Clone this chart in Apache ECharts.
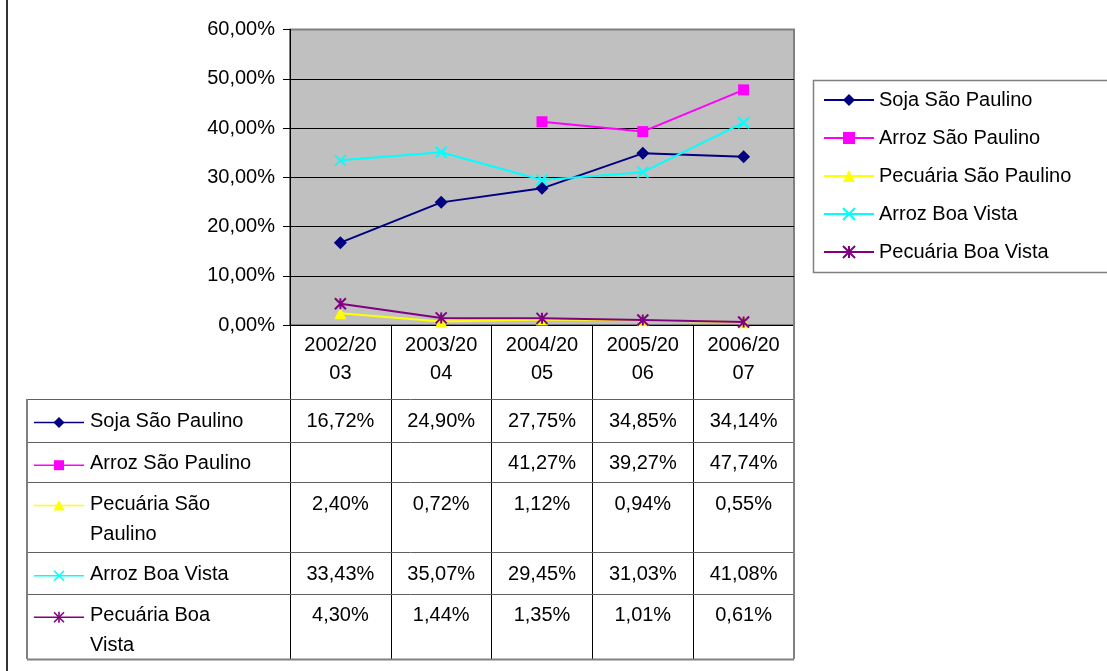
<!DOCTYPE html>
<html>
<head>
<meta charset="utf-8">
<script src="https://cdn.jsdelivr.net/npm/echarts@6/dist/echarts.min.js"></script>
<style>
html,body{margin:0;padding:0;background:#fff;overflow:hidden}
#c{width:1107px;height:671px}
</style>
</head>
<body>
<div id="c"></div>
<script>
// ---------- data ----------
const categories = ['2002/2003', '2003/2004', '2004/2005', '2005/2006', '2006/2007'];
const seriesNames = ['Soja São Paulino', 'Arroz São Paulino', 'Pecuária São Paulino', 'Arroz Boa Vista', 'Pecuária Boa Vista'];
const sojaSaoPaulino = [16.72, 24.90, 27.75, 34.85, 34.14];
const arrozSaoPaulino = [null, null, 41.27, 39.27, 47.74];
const pecuariaSaoPaulino = [2.40, 0.72, 1.12, 0.94, 0.55];
const arrozBoaVista = [33.43, 35.07, 29.45, 31.03, 41.08];
const pecuariaBoaVista = [4.30, 1.44, 1.35, 1.01, 0.61];
const tableRowLabels = ['Soja São Paulino', 'Arroz São Paulino', 'Pecuária São\nPaulino', 'Arroz Boa Vista', 'Pecuária Boa\nVista'];
const yMin = 0, yMax = 60, yStep = 10;

// ---------- styles ----------
const FONT = 'Liberation Sans, Arial, sans-serif';
const FS = 20;
const colors = ['#000080', '#FF00FF', '#FFFF00', '#00FFFF', '#800080'];
const markers = ['diamond', 'rect', 'triangle', 'x', 'star'];
const symbolOf = {
  diamond: 'diamond',
  rect: 'rect',
  triangle: 'triangle',
  x: 'path://M0,0L10,10M10,0L0,10',
  star: 'path://M0,0L10,10M10,0L0,10M5,0L5,10'
};
const symbolSizeOf = {diamond: 13, rect: 11, triangle: 12, x: 11, star: 11};
const allData = [sojaSaoPaulino, arrozSaoPaulino, pecuariaSaoPaulino, arrozBoaVista, pecuariaBoaVista];
const fmtPct = v => (v === null || v === undefined) ? '' : v.toFixed(2).replace('.', ',') + '%';

const chart = echarts.init(document.getElementById('c'), null, {renderer: 'canvas'});

const series = seriesNames.map((name, i) => {
  const m = markers[i];
  const stroked = (m === 'x' || m === 'star');
  return {
    name: name,
    type: 'line',
    data: allData[i],
    symbol: symbolOf[m],
    symbolSize: symbolSizeOf[m],
    showAllSymbol: true,
    connectNulls: false,
    lineStyle: {color: colors[i], width: 2},
    itemStyle: stroked
      ? {color: colors[i], borderColor: colors[i], borderWidth: 2}
      : {color: colors[i], borderColor: colors[i], borderWidth: 0},
    emphasis: {disabled: true},
    z: 3 + i
  };
});

const gridLeft = 290, gridTop = 29.5, gridRight = 313, gridBottom = 346;

chart.setOption({
  animation: false,
  backgroundColor: '#fff',
  textStyle: {fontFamily: FONT},
  grid: {
    left: gridLeft, top: gridTop, right: gridRight, bottom: gridBottom,
    show: true, backgroundColor: '#C0C0C0', borderColor: '#808080', borderWidth: 2,
    containLabel: false
  },
  legend: {
    orient: 'vertical',
    left: 823, top: 90,
    padding: 0,
    itemWidth: 50, itemHeight: 15, itemGap: 18,
    selectedMode: false,
    textStyle: {fontSize: FS, fontFamily: FONT, color: '#000', lineHeight: 20},
    data: seriesNames
  },
  xAxis: {
    type: 'category',
    data: categories,
    boundaryGap: true,
    axisLine: {show: true, lineStyle: {color: '#000', width: 1}},
    axisTick: {show: true, inside: false, length: 334, lineStyle: {color: '#000', width: 1}},
    axisLabel: {
      interval: 0, margin: 6, fontSize: FS, fontFamily: FONT, color: '#000', lineHeight: 28,
      formatter: s => s.slice(0, 7) + '\n' + s.slice(7)
    },
    splitLine: {show: false}
  },
  yAxis: {
    type: 'value',
    min: yMin, max: yMax, interval: yStep,
    axisLine: {show: true, lineStyle: {color: '#000', width: 1}},
    axisTick: {show: true, length: 7, lineStyle: {color: '#000'}},
    axisLabel: {margin: 15, fontSize: FS, fontFamily: FONT, color: '#000', formatter: v => fmtPct(v)},
    splitLine: {show: true, lineStyle: {color: ['#000', '#000', '#000', '#000', '#000', '#000', '#808080'], width: 1}}
  },
  series: series
});

// ---------- data table & frame (built from the arrays, positioned by the axis) ----------
const rowTops = [399, 441.7, 482, 552.3, 593.7];
const tableBottom = 659;
const tableLeft = 27;
const tableRight = 794;
const colCenters = categories.map((c, i) => chart.convertToPixel({xAxisIndex: 0}, i));

function markerGraphic(type, cx, cy, color) {
  const r = 5.5;
  switch (type) {
    case 'diamond':
      return [{type: 'polygon', shape: {points: [[cx, cy - r], [cx + r, cy], [cx, cy + r], [cx - r, cy]]}, style: {fill: color}, z: 20}];
    case 'rect':
      return [{type: 'rect', shape: {x: cx - 5, y: cy - 5, width: 10, height: 10}, style: {fill: color}, z: 20}];
    case 'triangle':
      return [{type: 'polygon', shape: {points: [[cx, cy - r], [cx + r, cy + 5], [cx - r, cy + 5]]}, style: {fill: color}, z: 20}];
    case 'x':
      return [
        {type: 'line', shape: {x1: cx - 5, y1: cy - 5, x2: cx + 5, y2: cy + 5}, style: {stroke: color, lineWidth: 1.6}, z: 20},
        {type: 'line', shape: {x1: cx + 5, y1: cy - 5, x2: cx - 5, y2: cy + 5}, style: {stroke: color, lineWidth: 1.6}, z: 20}
      ];
    default:
      return [
        {type: 'line', shape: {x1: cx - 5, y1: cy - 5, x2: cx + 5, y2: cy + 5}, style: {stroke: color, lineWidth: 1.6}, z: 20},
        {type: 'line', shape: {x1: cx + 5, y1: cy - 5, x2: cx - 5, y2: cy + 5}, style: {stroke: color, lineWidth: 1.6}, z: 20},
        {type: 'line', shape: {x1: cx, y1: cy - 5.5, x2: cx, y2: cy + 5.5}, style: {stroke: color, lineWidth: 1.6}, z: 20}
      ];
  }
}

const g = [];
// outer frame left line
g.push({type: 'line', shape: {x1: 7, y1: 0, x2: 7, y2: 671}, style: {stroke: '#333', lineWidth: 2}, z: 1});
// legend box
g.push({type: 'rect', shape: {x: 813.5, y: 80.5, width: 400, height: 192}, style: {fill: '#fff', stroke: '#808080', lineWidth: 1.5}, z: -1});
// horizontal table lines
rowTops.concat([tableBottom]).forEach((y, i) => {
  g.push({type: 'line', shape: {x1: tableLeft, y1: Math.round(y) + 0.5, x2: tableRight, y2: Math.round(y) + 0.5},
    style: {stroke: i === rowTops.length ? '#808080' : '#606060', lineWidth: i === rowTops.length ? 2 : 1}, z: 10});
});
// left table border
g.push({type: 'line', shape: {x1: tableLeft, y1: rowTops[0], x2: tableLeft, y2: tableBottom}, style: {stroke: '#808080', lineWidth: 2}, z: 10});
// right table border (gray)
g.push({type: 'line', shape: {x1: tableRight, y1: 325, x2: tableRight, y2: tableBottom}, style: {stroke: '#808080', lineWidth: 2}, z: 10});

rowTops.forEach((top, r) => {
  const cy = top + 23;
  // legend key
  g.push({type: 'line', shape: {x1: 34, y1: cy + 0.5, x2: 84, y2: cy + 0.5}, style: {stroke: colors[r], lineWidth: 1.6}, z: 15});
  markerGraphic(markers[r], 59, cy + 0.5, colors[r]).forEach(e => g.push(e));
  // row label
  g.push({type: 'text', style: {x: 90, y: top + 7, text: tableRowLabels[r], font: FS + 'px ' + FONT, fill: '#000',
    lineHeight: 30, verticalAlign: 'top', align: 'left'}, z: 15});
  // values
  allData[r].forEach((v, c) => {
    g.push({type: 'text', style: {x: colCenters[c], y: top + 7, text: fmtPct(v), font: FS + 'px ' + FONT, fill: '#000',
      lineHeight: 30, verticalAlign: 'top', align: 'center'}, z: 15});
  });
});

chart.setOption({graphic: g});
</script>
</body>
</html>
